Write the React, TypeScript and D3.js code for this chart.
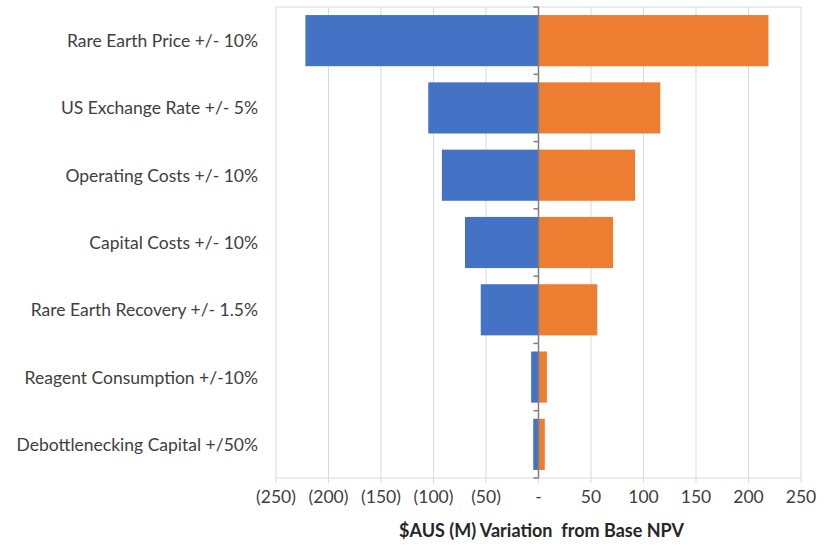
// @ts-nocheck
import React from 'react';
import * as d3 from 'd3';

const categories = [
  'Rare Earth Price +/- 10%',
  'US Exchange Rate +/- 5%',
  'Operating Costs +/- 10%',
  'Capital Costs +/- 10%',
  'Rare Earth Recovery +/- 1.5%',
  'Reagent Consumption +/-10%',
  'Debottlenecking Capital +/50%',
];
const downside = [-222, -105, -92, -70, -55, -7, -5];
const upside = [219, 116, 92, 71, 56, 8, 6];
const xTicks = [-250, -200, -150, -100, -50, 0, 50, 100, 150, 200, 250];
const axisTitle = '$AUS (M) Variation\u00A0 from Base NPV';

const W = 828;
const H = 546;
const left = 276;
const right = 801;
const top = 7;
const bottom = 478;

const fmt = (v: number) => (v === 0 ? '-' : v < 0 ? `(${-v})` : `${v}`);

const App: React.FC = () => {
  const x = d3.scaleLinear().domain([-250, 250]).range([left, right]);
  const y = d3.scaleBand().domain(categories).range([top, bottom]).paddingInner(0.24).paddingOuter(0.12);
  const step = y.step();
  const font = "Lato, 'Open Sans', sans-serif";

  return (
    <svg width={W} height={H} style={{ position: 'absolute', left: 0, top: 0 }} fontFamily={font}>
      <rect x={0} y={0} width={W} height={H} fill="#fff" />
      {/* gridlines */}
      {xTicks.map((t) => (
        <line key={t} x1={x(t)} x2={x(t)} y1={top} y2={bottom + 5} stroke="#d9d9d9" strokeWidth={1} />
      ))}
      <line x1={left} x2={right} y1={top} y2={top} stroke="#d9d9d9" />
      <line x1={left} x2={right} y1={bottom} y2={bottom} stroke="#d9d9d9" />

      {/* bars */}
      {categories.map((c, i) => (
        <g key={c}>
          <rect x={x(downside[i])} y={y(c)} width={x(0) - x(downside[i])} height={y.bandwidth()} fill="#4472C4" />
          <rect x={x(0)} y={y(c)} width={x(upside[i]) - x(0)} height={y.bandwidth()} fill="#ED7D31" />
          <text
            x={258}
            y={y(c) + y.bandwidth() / 2}
            textAnchor="end"
            dominantBaseline="central"
            fontSize={17.5}
            fill="#404040"
          >
            {c}
          </text>
        </g>
      ))}

      {/* zero axis */}
      <line x1={x(0)} x2={x(0)} y1={top} y2={bottom} stroke="#7f7f7f" strokeWidth={1.5} />
      {d3.range(categories.length + 1).map((i) => (
        <line key={i} x1={x(0) - 5} x2={x(0)} y1={top + i * step} y2={top + i * step} stroke="#7f7f7f" strokeWidth={1.5} />
      ))}

      {/* x tick labels */}
      {xTicks.map((t) => (
        <text key={t} x={x(t)} y={496} textAnchor="middle" dominantBaseline="central" fontSize={17.5} fill="#404040">
          {fmt(t)}
        </text>
      ))}
      <text x={x(0) + 3} y={530} textAnchor="middle" dominantBaseline="central" fontSize={18} fontWeight="bold" fill="#262626">
        {axisTitle}
      </text>
    </svg>
  );
};

export default App;
